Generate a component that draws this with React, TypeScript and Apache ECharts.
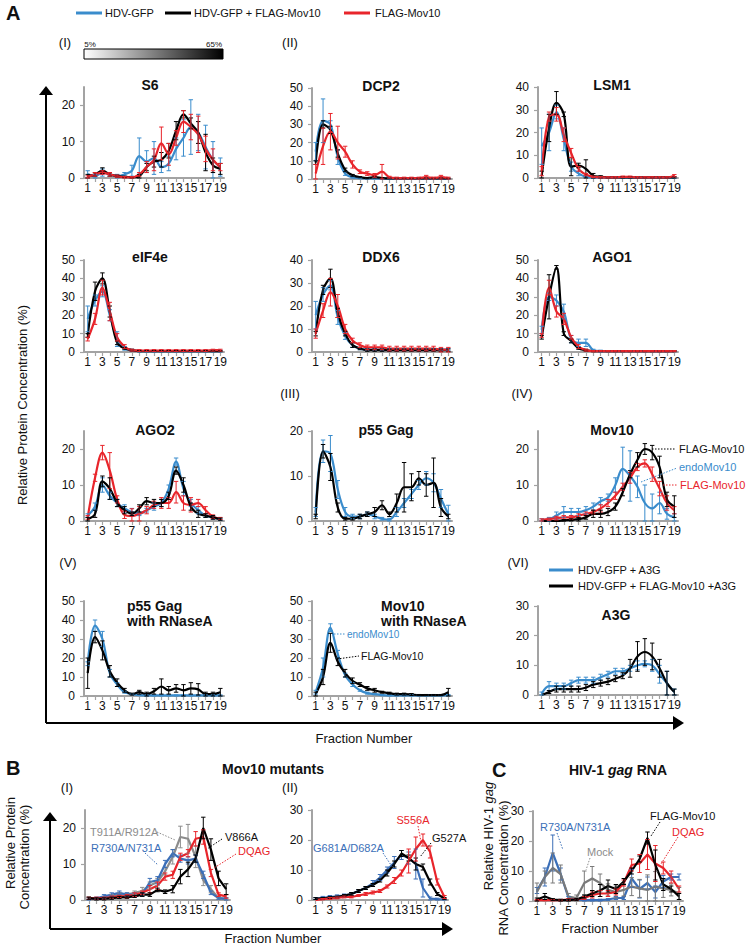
import React, { useEffect, useRef } from 'react';
import * as echarts from 'echarts';

const FONT = '"Liberation Sans", Arial, Helvetica, sans-serif';
const FRACTIONS = ['1','2','3','4','5','6','7','8','9','10','11','12','13','14','15','16','17','18','19'];
const TICKS_20 = [0, 10, 20];
const TICKS_30 = [0, 10, 20, 30];
const TICKS_40 = [0, 10, 20, 30, 40];
const TICKS_50 = [0, 10, 20, 30, 40, 50];

const BLUE = '#3a8ccc';
const BLUE2 = '#3b6fb8';
const RED = '#e8252b';
const BLACK = '#000000';
const GRAY = '#8c8c8c';
const GRAY2 = '#7a7a7a';
const AXIS = '#a3a3a3';

// ---------- Panel A ----------
const s6Blue = [1, 0.5, 1.5, 1, 0.5, 1, 2, 6, 4.5, 5.5, 3, 4, 8, 11, 14, 12.5, 8.5, 5, 3];
const s6BlueErr = [1, 0.5, 1, 0.5, 0.5, 0.5, 1.5, 5, 3, 4.5, 1.5, 2, 3, 5, 7.5, 5, 6, 5, 2.5];
const s6Black = [0.5, 1, 2, 1, 0.5, 0.3, 0.2, 0.5, 3, 4.5, 5, 7.5, 13, 17.5, 15, 12.5, 7, 3.5, 2.5];
const s6BlackErr = [0.5, 0.5, 0.8, 0.5, 0.3, 0.2, 0.2, 0.5, 1, 1.5, 2, 2, 2.5, 1, 1.5, 3, 5, 2, 1.5];
const s6Red = [0.3, 1, 1.5, 1, 0.5, 0.2, 0.2, 1, 3, 5, 9.5, 6.5, 11, 15.5, 14, 12, 8, 5, 3];
const s6RedErr = [0.3, 0.5, 0.5, 0.5, 0.3, 0.2, 0.2, 0.5, 1.5, 3, 4.5, 3, 2, 3, 3.5, 5, 3.5, 3, 1];

const dcp2Blue = [15, 32, 30, 12, 3, 1, 0.5, 0.3, 0.3, 0.2, 0.2, 0.2, 0.2, 0.2, 0.2, 0.2, 0.2, 0.2, 0.2];
const dcp2BlueErr = [5, 12, 2, 4, 1, 0.5, 0.3, 0.2, 0.2, 0.2, 0.2, 0.2, 0.2, 0.2, 0.2, 0.2, 0.2, 0.2, 0.2];
const dcp2Black = [9, 30, 27, 14, 5, 2, 1, 0.5, 1, 0.5, 0.3, 0.3, 0.3, 0.3, 0.3, 0.3, 0.3, 0.3, 0.3];
const dcp2BlackErr = [1, 2, 2, 2, 1, 0.5, 0.3, 0.3, 0.5, 0.3, 0.2, 0.2, 0.2, 0.2, 0.2, 0.2, 0.2, 0.2, 0.2];
const dcp2Red = [3, 18, 26, 20, 15, 8, 4, 3, 2, 4, 1, 0.5, 0.5, 0.5, 0.5, 1, 0.5, 1, 0.5];
const dcp2RedErr = [5, 10, 10, 9, 3, 2, 1, 1, 1, 4, 0.5, 0.5, 0.5, 0.5, 0.5, 1, 0.5, 1, 0.5];

const lsm1Blue = [14, 20, 29, 17, 5, 2, 0.5, 0.2, 0.2, 0.2, 0.2, 0.2, 0.2, 0.2, 0.2, 0.2, 0.2, 0.2, 0.2];
const lsm1BlueErr = [8, 8, 3, 5, 2, 1, 0.3, 0.2, 0.2, 0.2, 0.2, 0.2, 0.2, 0.2, 0.2, 0.2, 0.2, 0.2, 0.2];
const lsm1Black = [1, 22, 33, 28, 5, 5.5, 4, 1, 0.5, 0.3, 0.3, 0.3, 0.3, 0.3, 0.3, 0.3, 0.3, 0.3, 0.3];
const lsm1BlackErr = [2, 6, 5, 1, 4, 1, 4, 1, 0.5, 0.3, 0.3, 0.3, 0.3, 0.3, 0.3, 0.3, 0.3, 0.3, 0.3];
const lsm1Red = [3, 27, 28, 19, 11, 4, 1.5, 0.5, 0.3, 0.3, 0.3, 0.5, 0.5, 0.3, 0.3, 0.3, 0.3, 0.3, 1];
const lsm1RedErr = [2, 2, 3, 3, 2, 1, 0.5, 0.3, 0.3, 0.3, 0.3, 0.3, 0.3, 0.3, 0.3, 0.3, 0.3, 0.3, 0.5];

const eif4eBlue = [18, 28, 33, 20, 7, 2, 1, 0.5, 0.5, 0.5, 0.5, 0.5, 0.5, 0.5, 0.5, 0.5, 0.5, 0.5, 0.5];
const eif4eBlueErr = [7, 3, 3, 3, 4, 1, 0.5, 0.5, 0.5, 0.5, 0.5, 0.5, 0.5, 0.5, 0.5, 0.5, 0.5, 0.5, 0.5];
const eif4eBlack = [9, 33, 40, 22, 5, 2, 1, 0.5, 0.5, 0.5, 0.5, 0.5, 0.5, 0.5, 0.5, 0.5, 0.5, 0.5, 0.5];
const eif4eBlackErr = [1, 5, 3, 3, 1, 0.5, 0.5, 0.3, 0.3, 0.3, 0.3, 0.3, 0.3, 0.3, 0.3, 0.3, 0.3, 0.3, 0.3];
const eif4eRed = [7, 18, 35, 22, 8, 3, 1, 0.8, 0.8, 0.8, 0.8, 0.8, 0.8, 0.8, 0.8, 0.8, 0.8, 1, 1];
const eif4eRedErr = [1, 3, 4, 5, 2, 1, 0.5, 0.5, 0.5, 0.5, 0.5, 0.5, 0.5, 0.5, 0.5, 0.5, 0.5, 0.5, 0.5];

const ddx6Blue = [16, 25, 29, 15, 7, 3, 1.5, 1, 1, 1, 1, 1, 1, 1, 1, 1, 1, 1, 1];
const ddx6BlueErr = [6, 3, 2, 3, 1.5, 1, 0.5, 0.5, 0.5, 0.5, 0.5, 0.5, 0.5, 0.5, 0.5, 0.5, 0.5, 0.5, 0.5];
const ddx6Black = [8, 27, 32, 17, 8, 3, 1.5, 0.8, 0.8, 0.8, 0.8, 0.8, 0.8, 0.8, 0.8, 0.8, 0.8, 0.8, 0.8];
const ddx6BlackErr = [1, 2, 4, 2, 1, 1, 0.5, 0.5, 0.5, 0.5, 0.5, 0.5, 0.5, 0.5, 0.5, 0.5, 0.5, 0.5, 0.5];
const ddx6Red = [8, 18, 26, 20, 10, 5, 3, 2, 2, 2, 1.5, 1.5, 1.5, 1.5, 1.5, 1.5, 1.5, 1, 1];
const ddx6RedErr = [2, 3, 6, 5, 2, 1, 1, 1, 1, 1, 1, 1, 1, 1, 1, 1, 1, 1, 1];

const ago1Blue = [12, 30, 28, 22, 7, 5, 5, 1, 0.5, 0.5, 0.5, 0.5, 0.5, 0.5, 0.5, 0.5, 0.5, 0.5, 0.5];
const ago1BlueErr = [2, 2, 3, 4, 2, 2, 2, 0.5, 0.5, 0.3, 0.3, 0.3, 0.3, 0.3, 0.3, 0.3, 0.3, 0.3, 0.3];
const ago1Black = [8, 30, 46, 10, 6, 2, 1, 0.5, 0.5, 0.5, 0.5, 0.5, 0.5, 0.5, 0.5, 0.5, 0.5, 0.5, 0.5];
const ago1BlackErr = [1, 12, 1, 1, 1, 0.5, 0.5, 0.3, 0.3, 0.3, 0.3, 0.3, 0.3, 0.3, 0.3, 0.3, 0.3, 0.3, 0.3];
const ago1Red = [9, 35, 22, 18, 8, 3, 1, 0.5, 0.5, 0.5, 0.5, 0.5, 0.5, 0.5, 0.5, 0.5, 0.5, 0.5, 0.5];
const ago1RedErr = [1, 4, 3, 3, 1, 1, 0.5, 0.3, 0.3, 0.3, 0.3, 0.3, 0.3, 0.3, 0.3, 0.3, 0.3, 0.3, 0.3];

const ago2Blue = [1.5, 4, 10, 7, 5, 3.5, 2.5, 2, 3, 4, 5, 9, 16.5, 9, 5, 3, 1.5, 1, 0.5];
const ago2BlueErr = [0.5, 1, 2, 1, 1, 1, 1, 0.5, 0.5, 1, 1, 1, 1, 2, 1, 1, 0.5, 0.5, 0.3];
const ago2Black = [0.5, 2, 11, 9, 5, 3, 2, 3.5, 5.5, 5, 5, 7, 14, 10, 4, 2, 1.5, 1, 0.5];
const ago2BlackErr = [0.5, 1, 1.5, 3, 1, 1, 0.5, 1, 1, 1, 1, 1, 1, 2, 1, 1, 0.5, 0.5, 0.3];
const ago2Red = [1, 12, 19, 14, 6, 1.7, 1.4, 2, 3, 4.5, 5, 5, 8, 5, 4.5, 5, 3, 1.2, 0.7];
const ago2RedErr = [0.5, 1, 2, 5, 1, 1, 2, 2, 1, 1, 1.5, 1.5, 3, 2, 2, 1, 1, 0.5, 0.3];

const p55Blue = [2, 15.5, 15, 7, 2, 1, 1, 1.5, 1, 0.5, 0.3, 2, 4, 6, 8, 9.5, 8.5, 5, 1.5];
const p55BlueErr = [1, 2.5, 4, 2, 1, 0.5, 0.5, 0.5, 0.5, 0.3, 0.3, 1, 1, 1, 1, 1.5, 2, 2, 2];
const p55Black = [1, 15.5, 12, 3, 0.5, 0.5, 1, 1.5, 2, 3.5, 1.5, 4, 7.5, 7.5, 9.5, 8, 8.5, 3, 1];
const p55BlackErr = [0.5, 1.5, 3, 1, 0.3, 0.3, 0.5, 0.5, 1, 1, 0.5, 2, 5.5, 3, 1.5, 2.5, 5.5, 2, 0.5];

const mov10Blue = [0.3, 0.5, 1.5, 2.5, 2.5, 2.5, 3, 4, 5.5, 6.5, 10, 14.5, 12.5, 9.5, 5, 3.5, 5, 2, 1];
const mov10BlueErr = [0.3, 0.5, 1, 1.5, 1, 1, 1, 1, 1, 1, 2, 6, 7, 3, 5, 4, 3, 1.5, 1];
const mov10Black = [0, 0, 0, 0.2, 0.3, 0.5, 1, 2, 2, 2.5, 4, 8, 13, 17, 20, 19, 15, 6, 4];
const mov10BlackErr = [0, 0, 0, 0.2, 0.3, 0.5, 0.5, 1, 1, 1, 1, 1, 1, 2, 1.5, 2, 3, 2, 3];
const mov10Red = [0.3, 0.5, 0.8, 1, 1, 1.5, 2, 2.5, 3.5, 5, 7, 9.5, 12, 15, 16, 13, 9, 5, 3];
const mov10RedErr = [0.3, 0.3, 0.5, 0.5, 0.5, 0.5, 0.5, 0.5, 1, 1, 1, 1, 1.5, 1, 1, 2, 2, 2, 1];

const p55RnBlue = [17, 37, 30, 12, 6, 2, 1, 0.5, 0.3, 0.3, 0.3, 0.3, 0.3, 0.3, 0.3, 0.3, 0.3, 0.3, 0.3];
const p55RnBlueErr = [1, 3, 4, 2, 1, 0.5, 0.3, 0.3, 0.3, 0.3, 0.3, 0.3, 0.3, 0.3, 0.3, 0.3, 0.3, 0.3, 0.3];
const p55RnBlack = [12, 31, 24, 13, 7, 3, 1, 2, 1, 2.5, 5, 3, 4, 3, 4, 3.5, 1, 1, 2];
const p55RnBlackErr = [8, 3, 5, 3, 2, 1, 0.5, 1, 1, 1.5, 4, 2, 2, 3, 3, 3, 1, 1, 2];

const mov10RnBlue = [2, 15, 36, 22, 11, 6, 3, 1.5, 1, 0.5, 0.3, 0.3, 0.3, 0.3, 0.3, 0.3, 0.3, 0.3, 0.5];
const mov10RnBlueErr = [1, 5, 2, 2, 1, 1, 0.5, 0.5, 0.3, 0.3, 0.3, 0.3, 0.3, 0.3, 0.3, 0.3, 0.3, 0.3, 0.3];
const mov10RnBlack = [1, 10, 28, 18, 12, 8, 6, 4, 3, 2, 1.5, 1, 1, 0.8, 0.5, 0.5, 0.5, 0.5, 2];
const mov10RnBlackErr = [1, 4, 5, 2, 2, 1.5, 1, 1, 1, 0.5, 0.5, 0.5, 0.5, 0.5, 0.3, 0.3, 0.3, 0.3, 2];

const a3gBlue = [0.5, 3, 3, 3, 4, 5, 5, 5, 6, 7, 8, 8, 9, 10, 10.5, 10, 7, 4, 1];
const a3gBlueErr = [0.5, 1.5, 1, 1, 1, 1, 1, 1, 1, 1, 1, 1, 1, 1.5, 1, 2, 3, 4, 1];
const a3gBlack = [0, 1, 2, 2, 2, 2, 2.5, 3.5, 4, 4.5, 5.5, 6.5, 9, 13, 14.5, 13, 9, 4, 1];
const a3gBlackErr = [0, 0.5, 1, 1, 1, 1, 1, 1, 1, 1, 1, 1, 3, 5, 4.5, 4.5, 3, 4, 1];

// ---------- Panel B ----------
const bIGray = [0.5, 0.3, 0.5, 1, 1.5, 1.5, 2, 2.5, 4, 5, 8, 12, 17.5, 17, 12, 5.5, 3, 0.5, 0.3];
const bIGrayErr = [0.3, 0.3, 0.3, 0.5, 0.5, 0.5, 0.5, 1, 1, 1, 1, 2, 3, 4, 3, 1.5, 1, 0.3, 0.3];
const bIBlue = [0.3, 0.5, 1, 1.5, 2, 1.5, 1.5, 1.5, 5, 5.5, 10, 13, 11.5, 11, 11.5, 7, 2, 0.5, 0.3];
const bIBlueErr = [0.3, 0.3, 0.5, 0.5, 0.5, 0.5, 0.5, 0.5, 1, 1, 1, 1, 1, 1, 1, 1, 0.5, 0.3, 0.3];
const bIRed = [0.5, 0.5, 0.5, 0.8, 1, 1, 1.5, 2, 3, 4, 6.5, 7, 12, 13, 17, 17.5, 7.5, 1.5, 1];
const bIRedErr = [0.3, 0.3, 0.3, 0.3, 0.3, 0.5, 0.5, 0.5, 1, 1, 1, 1, 1, 1, 2, 2, 1, 0.5, 0.5];
const bIBlack = [0.5, 0.3, 0.3, 0.5, 0.7, 0.8, 1, 1.5, 1.5, 2.8, 2.3, 3, 6.5, 8.5, 11.5, 20, 14, 6, 3];
const bIBlackErr = [0.3, 0.3, 0.3, 0.3, 0.3, 0.3, 0.3, 0.5, 0.5, 0.5, 0.5, 1, 2, 2, 1, 3, 3, 2, 1.5];

const bIIBlue = [0.5, 0.7, 1, 1.2, 1.5, 2, 3, 4, 5.5, 7.5, 10, 12.5, 15, 14, 12, 4, 0.5, 0.3, 0.2];
const bIIBlueErr = [0.3, 0.5, 0.5, 0.5, 0.5, 0.5, 0.5, 0.5, 1, 1, 1, 2, 1.5, 2, 5, 3, 0.5, 0.3, 0.2];
const bIIRed = [0, 0.3, 0.5, 0.7, 1, 1, 1.5, 2, 2.5, 3, 4.5, 6.5, 9, 13, 17, 20, 16, 6, 1];
const bIIRedErr = [0, 0.2, 0.3, 0.3, 0.3, 0.3, 0.3, 0.5, 0.5, 0.5, 0.5, 1, 1, 4, 4, 2, 2, 1, 0.5];
const bIIBlack = [0.5, 0.5, 0.8, 1, 1.5, 2, 3, 4, 5, 6.5, 9, 12, 15.5, 14, 12, 11, 6, 2, 0.5];
const bIIBlackErr = [0.3, 0.3, 0.3, 0.3, 0.3, 0.5, 0.5, 0.5, 0.5, 0.5, 1, 1, 1, 1, 2, 1, 1, 0.5, 0.3];

// ---------- Panel C ----------
const cBlue = [3.5, 8, 16, 9, 1, 0.5, 0.3, 0.3, 0.3, 0.5, 1, 1, 7.5, 4, 6, 3, 6.5, 8, 8];
const cBlueErr = [1, 3, 6, 2, 0.5, 0.3, 0.3, 0.3, 0.3, 0.3, 0.5, 0.5, 3, 3, 2, 2, 2, 1, 1];
const cGray = [3, 8, 11, 9, 1.5, 1, 6, 7.5, 6, 3.7, 3, 3.7, 4.8, 4.2, 3.7, 4.8, 4.2, 3.7, 2.5];
const cGrayErr = [3, 2, 5, 3, 1, 1, 4, 4, 3, 2, 2, 2, 3, 3, 5, 5, 3, 2, 2];
const cBlack = [0.5, 1.5, 0.5, 0.3, 0.3, 0.5, 1.5, 2.5, 3.5, 5, 4, 6.5, 10, 14, 21, 12, 5.5, 4, 1.5];
const cBlackErr = [0.5, 1, 0.3, 0.3, 0.3, 0.3, 0.5, 1, 2, 2, 1.5, 1, 1, 1, 2, 5, 2, 1, 1];
const cRed = [0.3, 0.3, 0.3, 0.3, 0.5, 0.5, 1, 2, 2.5, 2.5, 3, 6, 12, 12.5, 15.5, 12.5, 11, 8, 4];
const cRedErr = [0.2, 0.2, 0.2, 0.2, 0.3, 0.3, 0.5, 1, 1, 1, 1, 1, 2, 3, 5, 6, 2, 2, 1];

type Ser = { color: string; values: number[]; errors: number[] };
type Panel = { left: number; top: number; width: number; height: number; max: number; ticks: number[]; smooth: boolean; series: Ser[] };

const sr = (color: string, values: number[], errors: number[]): Ser => ({ color, values, errors });

const COLS = [84, 312, 538];
const W = 140;

const panels: Panel[] = [
  { left: COLS[0], top: 87, width: W, height: 91, max: 25, ticks: TICKS_20, smooth: true, series: [sr(BLUE, s6Blue, s6BlueErr), sr(BLACK, s6Black, s6BlackErr), sr(RED, s6Red, s6RedErr)] },
  { left: COLS[1], top: 88, width: W, height: 91, max: 50, ticks: TICKS_50, smooth: true, series: [sr(BLUE, dcp2Blue, dcp2BlueErr), sr(BLACK, dcp2Black, dcp2BlackErr), sr(RED, dcp2Red, dcp2RedErr)] },
  { left: COLS[2], top: 87, width: W, height: 91, max: 40, ticks: TICKS_40, smooth: true, series: [sr(BLUE, lsm1Blue, lsm1BlueErr), sr(BLACK, lsm1Black, lsm1BlackErr), sr(RED, lsm1Red, lsm1RedErr)] },
  { left: COLS[0], top: 260, width: W, height: 92, max: 50, ticks: TICKS_50, smooth: true, series: [sr(BLUE, eif4eBlue, eif4eBlueErr), sr(BLACK, eif4eBlack, eif4eBlackErr), sr(RED, eif4eRed, eif4eRedErr)] },
  { left: COLS[1], top: 260, width: W, height: 92, max: 40, ticks: TICKS_40, smooth: true, series: [sr(BLUE, ddx6Blue, ddx6BlueErr), sr(BLACK, ddx6Black, ddx6BlackErr), sr(RED, ddx6Red, ddx6RedErr)] },
  { left: COLS[2], top: 260, width: W, height: 92, max: 50, ticks: TICKS_50, smooth: true, series: [sr(BLUE, ago1Blue, ago1BlueErr), sr(BLACK, ago1Black, ago1BlackErr), sr(RED, ago1Red, ago1RedErr)] },
  { left: COLS[0], top: 431, width: W, height: 90, max: 25, ticks: TICKS_20, smooth: true, series: [sr(BLUE, ago2Blue, ago2BlueErr), sr(RED, ago2Red, ago2RedErr), sr(BLACK, ago2Black, ago2BlackErr)] },
  { left: COLS[1], top: 431, width: W, height: 90, max: 20, ticks: TICKS_20, smooth: true, series: [sr(BLUE, p55Blue, p55BlueErr), sr(BLACK, p55Black, p55BlackErr)] },
  { left: COLS[2], top: 431, width: W, height: 90, max: 25, ticks: TICKS_20, smooth: true, series: [sr(BLUE, mov10Blue, mov10BlueErr), sr(RED, mov10Red, mov10RedErr), sr(BLACK, mov10Black, mov10BlackErr)] },
  { left: COLS[0], top: 601, width: W, height: 95, max: 50, ticks: TICKS_50, smooth: true, series: [sr(BLUE, p55RnBlue, p55RnBlueErr), sr(BLACK, p55RnBlack, p55RnBlackErr)] },
  { left: COLS[1], top: 601, width: W, height: 95, max: 50, ticks: TICKS_50, smooth: true, series: [sr(BLUE, mov10RnBlue, mov10RnBlueErr), sr(BLACK, mov10RnBlack, mov10RnBlackErr)] },
  { left: COLS[2], top: 606, width: W, height: 89, max: 30, ticks: TICKS_30, smooth: true, series: [sr(BLUE, a3gBlue, a3gBlueErr), sr(BLACK, a3gBlack, a3gBlackErr)] },
  { left: 85, top: 810, width: 145, height: 90, max: 25, ticks: TICKS_20, smooth: false, series: [sr(GRAY, bIGray, bIGrayErr), sr(BLUE2, bIBlue, bIBlueErr), sr(RED, bIRed, bIRedErr), sr(BLACK, bIBlack, bIBlackErr)] },
  { left: 312, top: 810, width: 136, height: 90, max: 30, ticks: TICKS_30, smooth: false, series: [sr(BLUE2, bIIBlue, bIIBlueErr), sr(BLACK, bIIBlack, bIIBlackErr), sr(RED, bIIRed, bIIRedErr)] },
  { left: 533, top: 811, width: 150, height: 90, max: 30, ticks: TICKS_30, smooth: false, series: [sr(BLUE2, cBlue, cBlueErr), sr(GRAY2, cGray, cGrayErr), sr(RED, cRed, cRedErr), sr(BLACK, cBlack, cBlackErr)] },
];

const errRender = (color: string) => (params: any, api: any) => {
  const k = api.value(0);
  const v = api.value(1);
  const e = api.value(2);
  if (!e) return null;
  const hi = api.coord([k, v + e]);
  const lo = api.coord([k, Math.max(0, v - e)]);
  const c = 2.2;
  const st = { stroke: color, lineWidth: 1 };
  return {
    type: 'group',
    children: [
      { type: 'line', shape: { x1: hi[0], y1: hi[1], x2: lo[0], y2: lo[1] }, style: st },
      { type: 'line', shape: { x1: hi[0] - c, y1: hi[1], x2: hi[0] + c, y2: hi[1] }, style: st },
      { type: 'line', shape: { x1: lo[0] - c, y1: lo[1], x2: lo[0] + c, y2: lo[1] }, style: st },
    ],
  };
};

const txt = (text: string, x: number, y: number, o: any = {}) => ({
  type: 'text',
  x,
  y,
  rotation: o.rot || 0,
  z: 100,
  style: {
    text,
    fill: o.color || '#111',
    font: `${o.style || ''} ${o.weight || 'normal'} ${o.size || 12}px ${FONT}`,
    textAlign: o.align || 'left',
    align: o.align || 'left',
    textVerticalAlign: 'middle',
    verticalAlign: 'middle',
    rich: o.rich,
  },
});

const ln = (x1: number, y1: number, x2: number, y2: number, color: string, width = 1, dash?: number[]) => ({
  type: 'line',
  z: 100,
  shape: { x1, y1, x2, y2 },
  style: { stroke: color, lineWidth: width, lineDash: dash },
});

const tri = (pts: number[][]) => ({ type: 'polygon', z: 100, shape: { points: pts }, style: { fill: '#000' } });

const DOT = [1.5, 1.5];

function buildGraphics() {
  const g: any[] = [];
  // Panel A header
  g.push(txt('A', 6, 13, { weight: 'bold', size: 20 }));
  g.push(ln(76, 13, 102, 13, BLUE, 3));
  g.push(txt('HDV-GFP', 105, 13, { size: 11 }));
  g.push(ln(165, 13, 191, 13, BLACK, 3));
  g.push(txt('HDV-GFP + FLAG-Mov10', 194, 13, { size: 11 }));
  g.push(ln(344, 13, 370, 13, RED, 3));
  g.push(txt('FLAG-Mov10', 375, 13, { size: 11 }));
  g.push(txt('(I)', 65, 42, { size: 13, align: 'center' }));
  g.push(txt('5%', 90, 44, { size: 8, align: 'center' }));
  g.push(txt('65%', 214, 44, { size: 8, align: 'center' }));
  g.push({
    type: 'rect', z: 100, shape: { x: 84, y: 49, width: 139, height: 10 },
    style: {
      fill: new echarts.graphic.LinearGradient(0, 0, 1, 0, [{ offset: 0, color: '#ffffff' }, { offset: 1, color: '#000000' }]),
      stroke: '#000', lineWidth: 1,
    },
  });
  g.push(txt('(II)', 290, 42, { size: 13, align: 'center' }));

  // Titles
  const tb = { weight: 'bold', size: 14, align: 'center' };
  g.push(txt('S6', 150, 85, tb));
  g.push(txt('DCP2', 381, 86, tb));
  g.push(txt('LSM1', 612, 85, tb));
  g.push(txt('eIF4e', 150, 257, tb));
  g.push(txt('DDX6', 381, 257, tb));
  g.push(txt('AGO1', 612, 257, tb));
  g.push(txt('(III)', 290, 393, { size: 13, align: 'center' }));
  g.push(txt('(IV)', 522, 393, { size: 13, align: 'center' }));
  g.push(txt('AGO2', 155, 430, tb));
  g.push(txt('p55 Gag', 386, 430, tb));
  g.push(txt('Mov10', 612, 430, tb));

  // Mov10 annotations
  g.push(ln(652, 449, 676, 449, BLACK, 1, DOT));
  g.push(txt('FLAG-Mov10', 679, 449, { size: 11 }));
  g.push(ln(641, 482, 677, 468, BLUE, 1, DOT));
  g.push(txt('endoMov10', 679, 467, { size: 11, color: BLUE }));
  g.push(ln(663, 485, 678, 485, RED, 1, DOT));
  g.push(txt('FLAG-Mov10', 680, 485, { size: 11, color: RED }));

  // Row 4
  g.push(txt('(V)', 68, 562, { size: 13, align: 'center' }));
  g.push(txt('(VI)', 518, 562, { size: 13, align: 'center' }));
  g.push(ln(549, 570, 573, 570, BLUE, 3));
  g.push(txt('HDV-GFP + A3G', 578, 570, { size: 11 }));
  g.push(ln(549, 586, 573, 586, BLACK, 3));
  g.push(txt('HDV-GFP + FLAG-Mov10 +A3G', 578, 586, { size: 11 }));
  g.push(txt('p55 Gag', 127, 606, { weight: 'bold', size: 14 }));
  g.push(txt('with RNaseA', 127, 621, { weight: 'bold', size: 14 }));
  g.push(txt('Mov10', 381, 606, { weight: 'bold', size: 14 }));
  g.push(txt('with RNaseA', 381, 621, { weight: 'bold', size: 14 }));
  g.push(txt('A3G', 616, 615, tb));
  g.push(ln(334, 634, 346, 634, BLUE, 1, DOT));
  g.push(txt('endoMov10', 347, 634, { size: 10, color: BLUE }));
  g.push(ln(337, 659, 359, 656, BLACK, 1, DOT));
  g.push(txt('FLAG-Mov10', 361, 656, { size: 10.5 }));

  // Big axes A
  g.push(ln(46, 94, 46, 723, '#000', 2));
  g.push(tri([[46, 86], [39, 95], [53, 95]]));
  g.push(ln(46, 723, 674, 723, '#000', 2));
  g.push(tri([[684, 723], [673, 716], [673, 730]]));
  g.push(txt('Fraction Number', 364, 738, { size: 13, align: 'center' }));
  g.push(txt('Relative Protein Concentration (%)', 22, 405, { size: 13, align: 'center', rot: Math.PI / 2 }));

  // Panel B
  g.push(txt('B', 6, 768, { weight: 'bold', size: 20 }));
  g.push(txt('Mov10 mutants', 273, 769, tb));
  g.push(txt('(I)', 67, 787, { size: 13, align: 'center' }));
  g.push(txt('(II)', 290, 787, { size: 13, align: 'center' }));
  g.push(ln(50, 820, 50, 929, '#000', 2));
  g.push(tri([[50, 812], [43, 821], [57, 821]]));
  g.push(ln(50, 929, 443, 929, '#000', 2));
  g.push(tri([[453, 929], [442, 922], [442, 936]]));
  g.push(txt('Fraction Number', 273, 938, { size: 13, align: 'center' }));
  g.push(txt('Relative Protein', 10, 843, { size: 13, align: 'center', rot: Math.PI / 2 }));
  g.push(txt('Concentration (%)', 24, 857, { size: 13, align: 'center', rot: Math.PI / 2 }));

  g.push(txt('T911A/R912A', 90, 832, { size: 11, color: GRAY }));
  g.push(ln(157, 832, 175, 840, GRAY, 1, DOT));
  g.push(txt('R730A/N731A', 91, 848, { size: 11, color: BLUE2 }));
  g.push(ln(145, 853, 158, 865, BLUE2, 1, DOT));
  g.push(txt('V866A', 225, 837, { size: 11 }));
  g.push(ln(222, 839, 207, 849, BLACK, 1, DOT));
  g.push(txt('DQAG', 238, 851, { size: 11, color: RED }));
  g.push(ln(236, 854, 214, 868, RED, 1, DOT));

  g.push(txt('G681A/D682A', 313, 848, { size: 11, color: BLUE2 }));
  g.push(ln(383, 853, 393, 868, BLUE2, 1, DOT));
  g.push(txt('S556A', 413, 820, { size: 11, color: RED, align: 'center' }));
  g.push(ln(418, 826, 421, 842, RED, 1, DOT));
  g.push(txt('G527A', 432, 838, { size: 11 }));
  g.push(ln(431, 843, 420, 857, BLACK, 1, DOT));

  // Panel C
  g.push(txt('C', 492, 770, { weight: 'bold', size: 20 }));
  g.push(txt('{b|HIV-1 }{i|gag}{b| RNA}', 618, 770, {
    align: 'center',
    rich: {
      b: { font: `bold 14px ${FONT}`, fill: '#111' },
      i: { font: `italic bold 14px ${FONT}`, fill: '#111' },
    },
  }));
  g.push(txt('{n|Relative HIV-1 }{i|gag}', 488, 836, {
    align: 'center', rot: Math.PI / 2,
    rich: { n: { font: `13px ${FONT}`, fill: '#111' }, i: { font: `italic 13px ${FONT}`, fill: '#111' } },
  }));
  g.push(txt('RNA Concentration (%)', 503, 868, { size: 13, align: 'center', rot: Math.PI / 2 }));
  g.push(txt('Fraction Number', 610, 928, { size: 13, align: 'center' }));
  g.push(txt('R730A/N731A', 540, 827, { size: 11, color: BLUE2 }));
  g.push(ln(557, 833, 563, 850, BLUE2, 1, DOT));
  g.push(txt('Mock', 587, 852, { size: 11, color: GRAY }));
  g.push(ln(590, 858, 586, 870, GRAY, 1, DOT));
  g.push(txt('FLAG-Mov10', 650, 816, { size: 11 }));
  g.push(ln(660, 822, 651, 836, BLACK, 1, DOT));
  g.push(txt('DQAG', 672, 832, { size: 11, color: RED }));
  g.push(ln(678, 837, 661, 864, RED, 1, DOT));
  return g;
}

function buildOption() {
  const grid: any[] = [];
  const xAxis: any[] = [];
  const yAxis: any[] = [];
  const series: any[] = [];
  panels.forEach((p, i) => {
    grid.push({ left: p.left, top: p.top, width: p.width, height: p.height, containLabel: false, outerBoundsMode: 'none' });
    xAxis.push({
      type: 'category', gridIndex: i, data: FRACTIONS, boundaryGap: true,
      axisLine: { show: true, lineStyle: { color: AXIS, width: 2 } },
      axisTick: { show: true, interval: 0, alignWithLabel: true, length: 4, lineStyle: { color: AXIS, width: 1.2 } },
      axisLabel: { interval: 1, margin: 4, fontSize: 12, color: '#111', fontFamily: FONT },
      splitLine: { show: false },
    });
    yAxis.push({
      type: 'value', gridIndex: i, min: 0, max: p.max, interval: 10,
      axisLine: { show: true, lineStyle: { color: AXIS, width: 2 } },
      axisTick: { show: true, length: 4, customValues: p.ticks, lineStyle: { color: AXIS, width: 1.2 } },
      axisLabel: { margin: 9, fontSize: 12, color: '#111', fontFamily: FONT, customValues: p.ticks },
      splitLine: { show: false },
    });
    p.series.forEach((s) => {
      series.push({
        type: 'line', xAxisIndex: i, yAxisIndex: i, data: s.values,
        smooth: p.smooth ? 0.35 : false, symbol: 'none',
        lineStyle: { color: s.color, width: 2.2 }, itemStyle: { color: s.color },
        z: 3, silent: true,
      });
      series.push({
        type: 'custom', xAxisIndex: i, yAxisIndex: i,
        data: s.values.map((v, k) => [k, v, s.errors[k]]),
        encode: { x: 0, y: 1 },
        renderItem: errRender(s.color),
        z: 4, silent: true, clip: false,
      });
    });
  });
  return {
    animation: false,
    backgroundColor: '#ffffff',
    textStyle: { fontFamily: FONT },
    grid, xAxis, yAxis, series,
    graphic: { elements: buildGraphics() },
  };
}

export default function App() {
  const ref = useRef<HTMLDivElement>(null);
  useEffect(() => {
    if (!ref.current) return;
    const chart = echarts.init(ref.current, undefined, { renderer: 'svg' });
    chart.setOption(buildOption() as any);
    return () => chart.dispose();
  }, []);
  return <div ref={ref} style={{ position: 'absolute', left: 0, top: 0, width: 750, height: 945 }} />;
}
